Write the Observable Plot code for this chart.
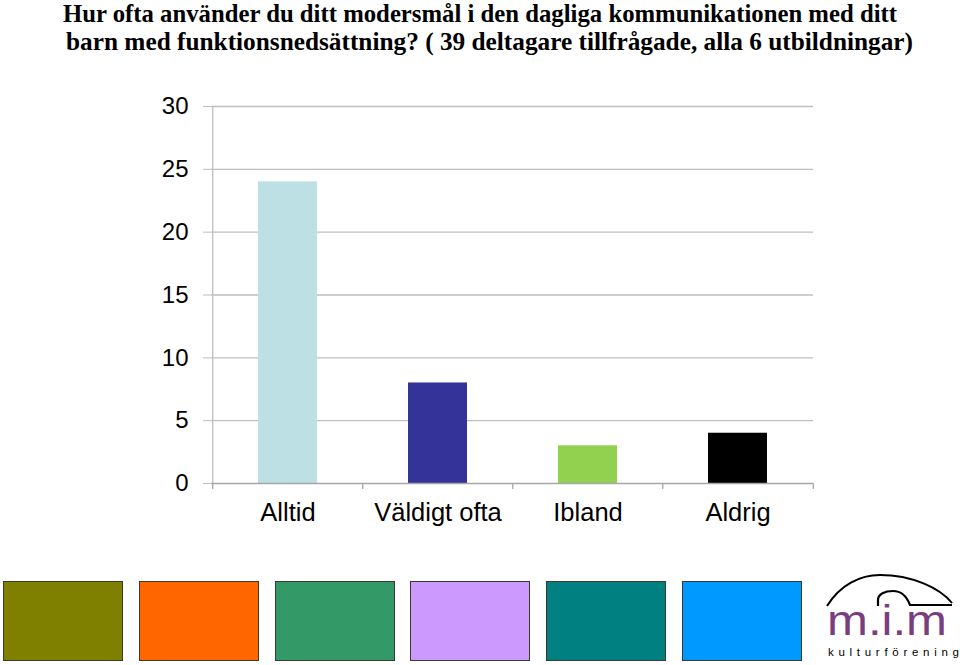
<!DOCTYPE html>
<html><head><meta charset="utf-8">
<script src="https://cdn.jsdelivr.net/npm/d3@7"></script>
<script src="https://cdn.jsdelivr.net/npm/@observablehq/plot@0.6"></script>
<style>
body{margin:0;width:960px;height:665px;position:relative;overflow:hidden;background:#fff;font-family:Arial,"Liberation Sans",sans-serif}
.tl{position:absolute;white-space:nowrap;font-family:"Liberation Serif","Times New Roman",serif;font-weight:bold;font-size:26px;line-height:27px;color:#000;transform-origin:0 0}
#chart{position:absolute;left:0;top:70px}
.sw{position:absolute;top:581px;width:118px;height:78px;border:1px solid #3a3a2a}
#logo{position:absolute;left:810px;top:565px}
</style></head>
<body>
<div id="t1" class="tl" style="left:63px;top:0px">Hur ofta använder du ditt modersmål i den dagliga kommunikationen med ditt</div>
<div id="t2" class="tl" style="left:66px;top:28px">barn med funktionsnedsättning? ( 39 deltagare tillfrågade, alla 6 utbildningar)</div>
<div id="chart"></div>
<div id="swatches"></div>
<svg id="logo" width="150" height="100" viewBox="810 565 150 100">
  <path d="M827,606 C840,585 860,575 880,575 C912,575 940,588 952,603" fill="none" stroke="#000" stroke-width="2"/>
  <path d="M878,606 L878,600 C878,594 885,591 893,591 C901,591 907,597 910,605 L952,605" fill="none" stroke="#000" stroke-width="2.2"/>
  <text x="827" y="635" textLength="120" lengthAdjust="spacingAndGlyphs" font-family="Liberation Sans, Arial, sans-serif" font-size="42" fill="#7A3D7E">m.i.m</text>
  <text x="828" y="656" textLength="131" lengthAdjust="spacing" font-family="Liberation Sans, Arial, sans-serif" font-size="11.5" fill="#000">kulturförening</text>
</svg>
<script>
const categories = ["Alltid", "Väldigt ofta", "Ibland", "Aldrig"];
const counts = [24, 8, 3, 4];
const barColors = ["#BCE0E4", "#333399", "#92D050", "#000000"];
const yTicks = [0, 5, 10, 15, 20, 25, 30];
const swatchColors = ["#808000", "#FF6600", "#339966", "#CC99FF", "#008080", "#0099FF"];

// fit title lines to the reference widths
[["t1", 834], ["t2", 847]].forEach(([id, w]) => {
  const el = document.getElementById(id);
  const cw = el.getBoundingClientRect().width;
  el.style.transform = `scaleX(${w / cw})`;
});

const W = 960, H = 470, mL = 211, mR = 147, mT = 36, mB = 57;
const step = (W - mL - mR) / categories.length;
const data = categories.map((c, i) => ({cat: c, n: counts[i], color: barColors[i]}));
const gray = "#bfbfbf";

const plot = Plot.plot({
  width: W, height: H,
  marginLeft: mL, marginRight: mR, marginTop: mT, marginBottom: mB,
  style: {fontFamily: "Arial, 'Liberation Sans', sans-serif", color: "#000", background: "transparent", overflow: "visible"},
  x: {domain: categories, paddingInner: 0.61, paddingOuter: 0.305, label: null},
  y: {domain: [0, 30], label: null},
  color: {type: "identity"},
  marks: [
    Plot.ruleY(yTicks.filter(t => t > 0), {stroke: gray, strokeWidth: 1.3}),
    Plot.axisY({ticks: yTicks, tickSize: 8, tickPadding: 15, stroke: gray, fill: "#000", fontSize: 24, label: null, tickFormat: d => d}),
    Plot.ruleX([categories[0]], {x: d => d, y1: 0, y2: 30, dx: -step / 2, stroke: gray, strokeWidth: 1.3}),
    Plot.barY(data, {x: "cat", y: "n", fill: "color"}),
    Plot.ruleY([0], {stroke: "#a6a6a6", strokeWidth: 1.3}),
    Plot.ruleX(categories, {x: d => d, y1: 0, y2: -0.48, dx: -step / 2, stroke: "#a6a6a6", strokeWidth: 1.3}),
    Plot.ruleX([categories[categories.length - 1]], {x: d => d, y1: 0, y2: -0.48, dx: step / 2, stroke: "#a6a6a6", strokeWidth: 1.3}),
    Plot.axisX({tickSize: 0, tickPadding: 19, fontSize: 25.5, label: null})
  ]
});
document.getElementById("chart").appendChild(plot);

const sw = document.getElementById("swatches");
swatchColors.forEach((c, i) => {
  const d = document.createElement("div");
  d.className = "sw";
  d.style.left = (3 + i * 135.8) + "px";
  d.style.background = c;
  sw.appendChild(d);
});
</script>
</body></html>
